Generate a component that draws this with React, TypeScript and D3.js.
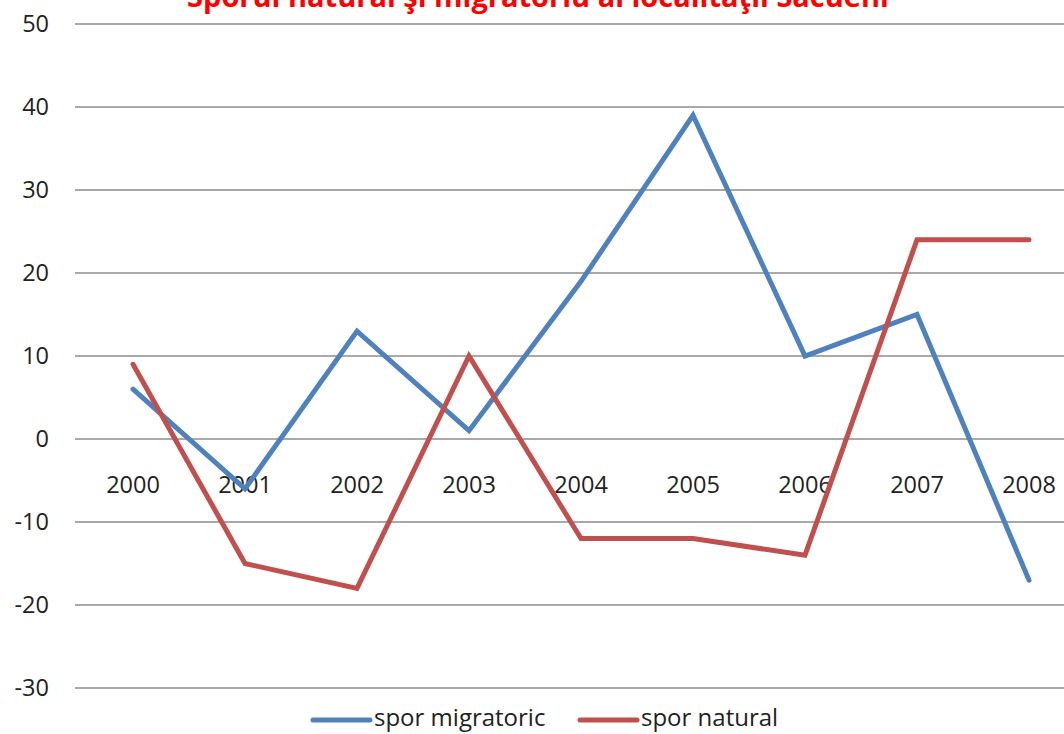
import React, { useRef, useEffect } from 'react';
import * as d3 from 'd3';

const years = ['2000', '2001', '2002', '2003', '2004', '2005', '2006', '2007', '2008'];
const sporMigratoric = [6, -6, 13, 1, 19, 39, 10, 15, -17];
const sporNatural = [9, -15, -18, 10, -12, -12, -14, 24, 24];
const yTicks = [-30, -20, -10, 0, 10, 20, 30, 40, 50];

const title = 'Sporul natural şi migratoriu al localităţii Săcueni';

const series = [
  { name: 'spor migratoric', values: sporMigratoric, color: '#4F81BD' },
  { name: 'spor natural', values: sporNatural, color: '#C0504D' },
];

const App: React.FC = () => {
  const svgRef = useRef<SVGSVGElement>(null);

  useEffect(() => {
    if (!svgRef.current) return;
    const svg = d3.select(svgRef.current);
    svg.selectAll('*').remove();

    const width = 1064;
    const height = 734;
    const font = "'Open Sans', 'DejaVu Sans', sans-serif";

    svg.attr('width', width).attr('height', height);

    const x = d3.scaleBand<string>().domain(years).range([77, 1085]);
    const y = d3.scaleLinear().domain([-30, 50]).range([688, 24]);
    const cx = (d: string) => (x(d) ?? 0) + x.bandwidth() / 2;

    // gridlines
    svg.append('g')
      .selectAll('line')
      .data(yTicks)
      .enter().append('line')
      .attr('x1', 75)
      .attr('x2', width)
      .attr('y1', d => y(d))
      .attr('y2', d => y(d))
      .attr('stroke', '#8c8c8c')
      .attr('stroke-width', 1.3);

    // y labels
    svg.append('g')
      .selectAll('text')
      .data(yTicks)
      .enter().append('text')
      .attr('x', 49)
      .attr('y', d => y(d))
      .attr('dy', '0.36em')
      .attr('text-anchor', 'end')
      .style('font-family', font)
      .style('font-size', '23.5px')
      .style('fill', '#222')
      .text(d => d);

    // x labels sit under the zero line
    svg.append('g')
      .selectAll('text')
      .data(years)
      .enter().append('text')
      .attr('x', d => cx(d))
      .attr('y', y(0) + 54)
      .attr('text-anchor', 'middle')
      .style('font-family', font)
      .style('font-size', '23.5px')
      .style('fill', '#222')
      .text(d => d);

    const line = d3.line<number>()
      .x((_, i) => cx(years[i]))
      .y(d => y(d));

    series.forEach(s => {
      svg.append('path')
        .datum(s.values)
        .attr('d', line)
        .attr('fill', 'none')
        .attr('stroke', s.color)
        .attr('stroke-width', 5)
        .attr('stroke-linecap', 'round')
        .attr('stroke-linejoin', 'miter');
    });

    // legend
    const legendX = [313, 580];
    const legend = svg.append('g');
    series.forEach((s, i) => {
      legend.append('line')
        .attr('x1', legendX[i])
        .attr('x2', legendX[i] + 57)
        .attr('y1', 720)
        .attr('y2', 720)
        .attr('stroke', s.color)
        .attr('stroke-width', 5)
        .attr('stroke-linecap', 'round');
      legend.append('text')
        .attr('x', legendX[i] + 61)
        .attr('y', 726)
        .style('font-family', font)
        .style('font-size', '24px')
        .style('fill', '#222')
        .text(s.name);
    });

    // title, mostly cut off at the top edge as in the source
    svg.append('text')
      .attr('x', 538)
      .attr('y', 7)
      .attr('text-anchor', 'middle')
      .style('font-family', font)
      .style('font-size', '29px')
      .style('font-weight', 'bold')
      .style('fill', '#FF0000')
      .text(title);
  }, []);

  return <svg ref={svgRef} style={{ position: 'absolute', left: 0, top: 0, display: 'block' }} />;
};

export default App;
